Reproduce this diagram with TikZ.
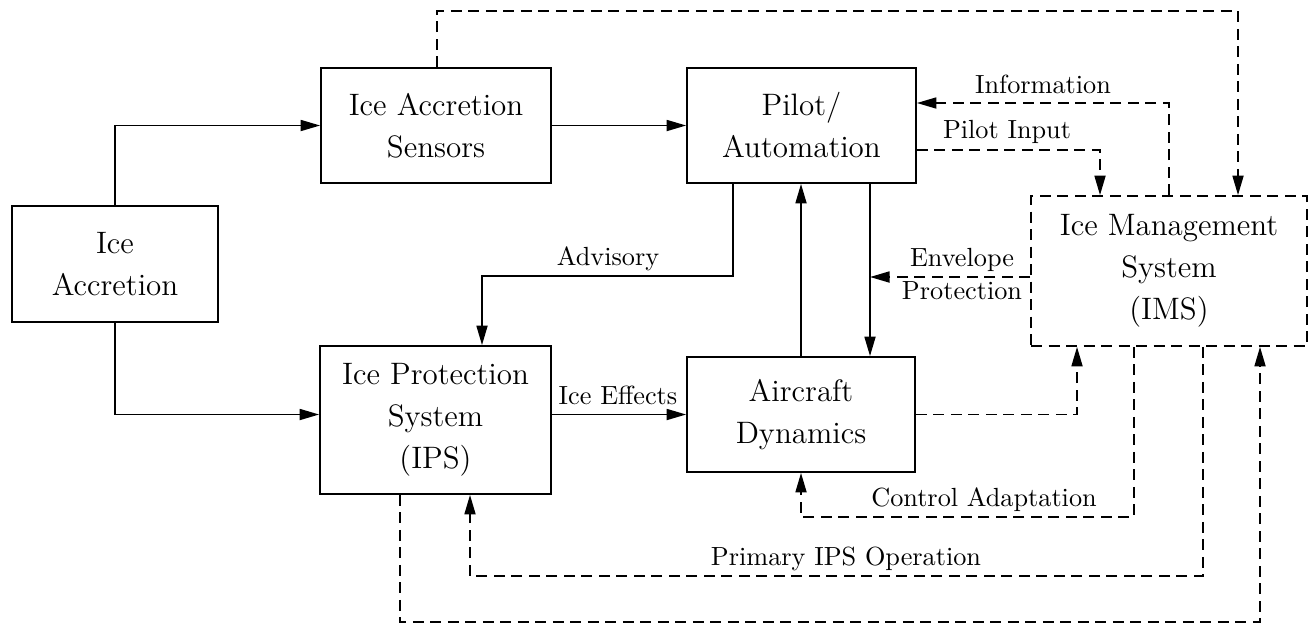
\documentclass[tikz,border=0pt]{standalone}
\usetikzlibrary{arrows.meta}
\newcommand{\boxtextfont}{\fontsize{12.4}{16.8}\selectfont}
\newcommand{\labeltextfont}{\fontsize{10.5}{12.6}\selectfont}
\begin{document}
\begin{tikzpicture}[x=0.4pt,y=-0.4pt,
  line width=0.7pt,
  blockbox/.style={draw,rectangle,align=center,inner sep=0pt,font=\boxtextfont},
  imsbox/.style={blockbox,dash pattern=on 4.4pt off 2.6pt},
  flow/.style={-{Triangle[length=7.8pt,width=4.4pt]}},
  dflow/.style={flow,dash pattern=on 4.4pt off 2.6pt},
  lbl/.style={font=\labeltextfont,anchor=base,inner sep=0pt}]
\useasboundingbox (0,0) rectangle (1310,627);

% blocks
\node[blockbox,minimum width=82.4pt,minimum height=46.4pt] (acc) at (115,264) {Ice\\Accretion};
\node[blockbox,minimum width=92pt,minimum height=46pt] (sens) at (436,125.5) {Ice Accretion\\Sensors};
\node[blockbox,minimum width=91.6pt,minimum height=46pt] (pilot) at (801.5,125.5) {Pilot/\\Automation};
\node[blockbox,minimum width=92.4pt,minimum height=59.2pt] (ips) at (435.5,420) {Ice Protection\\System\\(IPS)};
\node[blockbox,minimum width=91.2pt,minimum height=46pt] (dyn) at (801,414.5) {Aircraft\\Dynamics};
\node[imsbox,minimum width=110.4pt,minimum height=60pt] (ims) at (1169,271) {Ice Management\\System\\(IMS)};

% routing levels
\coordinate (ytop) at (0,11);
\coordinate (yinfo) at (0,103);
\coordinate (yinput) at (0,150);
\coordinate (yadv) at (0,276);
\coordinate (yenv) at (0,277);
\coordinate (yctrl) at (0,517);
\coordinate (yprim) at (0,576);
\coordinate (ybot) at (0,622);
\coordinate (xsens) at (437,0);
\coordinate (xtop) at (1238,0);
\coordinate (xinput) at (1100,0);
\coordinate (xadv) at (733,0);
\coordinate (xadvin) at (482,0);
\coordinate (xdown) at (870,0);
\coordinate (xdynims) at (1077,0);
\coordinate (xctrl) at (1134,0);
\coordinate (xprim) at (1203,0);
\coordinate (xprimin) at (470,0);
\coordinate (xbot) at (400,0);
\coordinate (xbotin) at (1260,0);
\coordinate (envend) at (xdown |- yenv);

% solid connectors
\draw[flow] (acc.north) |- (sens.west);
\draw[flow] (acc.south) |- (ips.west |- dyn.west);
\draw[flow] (sens.east) -- (pilot.west);
\draw[flow] (ips.east |- dyn.west) -- (dyn.west);
\draw[flow] (pilot.south -| xadv) -- (xadv |- yadv) -- (xadvin |- yadv) -- (xadvin |- ips.north);
\draw[flow] (dyn.north) -- (dyn.north |- pilot.south);
\draw[flow] (pilot.south -| xdown) -- (dyn.north -| xdown);

% dashed connectors
\draw[dflow] (sens.north -| xsens) -- (xsens |- ytop) -- (xtop |- ytop) -- (xtop |- ims.north);
\draw[dflow] (ims.north) -- (ims.north |- yinfo) -- (pilot.east |- yinfo);
\draw[dflow] (pilot.east |- yinput) -- (xinput |- yinput) -- (xinput |- ims.north);
\draw[dflow] (ims.west |- yenv) -- (envend);
\draw[dflow] (dyn.east) -- (xdynims |- dyn.east) -- (xdynims |- ims.south);
\draw[dflow] (xctrl |- ims.south) -- (xctrl |- yctrl) -- (dyn.south |- yctrl) -- (dyn.south);
\draw[dflow] (xprim |- ims.south) -- (xprim |- yprim) -- (xprimin |- yprim) -- (xprimin |- ips.south);
\draw[dflow] (xbot |- ips.south) -- (xbot |- ybot) -- (xbotin |- ybot) -- (xbotin |- ims.south);

% connector labels
\node[lbl] (ladv) at (608,265) {Advisory};
\node[lbl] (linfo) at (1043,93) {Information};
\node[lbl] (linput) at (1007,138) {Pilot Input};
\node[lbl] (lenv1) at (962,266) {Envelope};
\node[lbl] (lenv2) at (962,299) {Protection};
\node[lbl] (leff) at (618,404) {Ice Effects};
\node[lbl] (lctrl) at (984,506) {Control Adaptation};
\node[lbl] (lprim) at (846,565) {Primary IPS Operation};
\end{tikzpicture}
\end{document}
